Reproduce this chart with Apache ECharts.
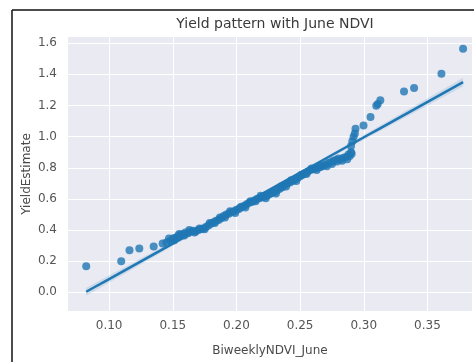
<!DOCTYPE html>
<html>
<head>
<meta charset="utf-8">
<script src="https://cdn.jsdelivr.net/npm/echarts@6/dist/echarts.min.js"></script>
<style>
  html, body { margin: 0; padding: 0; background: #ffffff; }
  #chart { width: 474px; height: 362px; }
</style>
</head>
<body>
<div id="chart"></div>
<script>
// June biweekly NDVI per field and the matching yield estimate
const ndvi = [
  0.082, 0.1095, 0.116, 0.1237, 0.135, 0.142,
  0.145, 0.148, 0.150, 0.152, 0.154, 0.156, 0.158, 0.160, 0.162, 0.164,
  0.166, 0.168, 0.170, 0.172, 0.174, 0.176, 0.178, 0.180, 0.182, 0.184,
  0.186, 0.188, 0.190, 0.192, 0.194, 0.196, 0.198, 0.200, 0.202, 0.204,
  0.206, 0.208, 0.210, 0.212, 0.214, 0.216, 0.218, 0.220, 0.222, 0.224,
  0.226, 0.228, 0.230, 0.232, 0.234, 0.236, 0.238, 0.240, 0.242, 0.244,
  0.246, 0.248, 0.250, 0.252, 0.254, 0.256, 0.258, 0.260, 0.262, 0.264,
  0.266, 0.268, 0.270, 0.272, 0.274, 0.276, 0.278, 0.280, 0.282, 0.284,
  0.286, 0.288, 0.290, 0.290, 0.291, 0.292, 0.293, 0.2935, 0.2998, 0.3053,
  0.3098, 0.311, 0.313, 0.3316, 0.3395, 0.361, 0.378,
  0.147, 0.151, 0.155, 0.159, 0.163, 0.167, 0.171, 0.175, 0.179, 0.183,
  0.187, 0.191, 0.195, 0.199, 0.203, 0.207, 0.211, 0.215, 0.219, 0.223,
  0.227, 0.231, 0.235, 0.239, 0.243, 0.247, 0.251, 0.255, 0.259, 0.263,
  0.267, 0.271, 0.275, 0.279, 0.283, 0.287, 0.289, 0.2905
];
const yieldEst = [
  0.167, 0.199, 0.270, 0.282, 0.295, 0.314,
  0.320, 0.330, 0.345, 0.350, 0.360, 0.370, 0.375, 0.385, 0.380, 0.390,
  0.395, 0.390, 0.400, 0.405, 0.410, 0.420, 0.430, 0.440, 0.450, 0.460,
  0.465, 0.475, 0.490, 0.500, 0.505, 0.515, 0.520, 0.530, 0.535, 0.550,
  0.555, 0.565, 0.575, 0.580, 0.590, 0.600, 0.605, 0.610, 0.615, 0.620,
  0.630, 0.640, 0.645, 0.655, 0.665, 0.675, 0.690, 0.700, 0.705, 0.715,
  0.725, 0.735, 0.745, 0.755, 0.765, 0.775, 0.785, 0.790, 0.795, 0.800,
  0.805, 0.815, 0.820, 0.830, 0.835, 0.845, 0.850, 0.860, 0.855, 0.865,
  0.870, 0.885, 0.900, 0.940, 0.970, 1.000, 1.020, 1.050, 1.072, 1.126,
  1.199, 1.210, 1.233, 1.290, 1.312, 1.404, 1.564,
  0.345, 0.335, 0.375, 0.365, 0.400, 0.385, 0.410, 0.405, 0.445, 0.445,
  0.480, 0.480, 0.520, 0.510, 0.545, 0.545, 0.585, 0.585, 0.620, 0.605,
  0.640, 0.635, 0.680, 0.680, 0.720, 0.715, 0.755, 0.760, 0.795, 0.785,
  0.810, 0.810, 0.825, 0.840, 0.845, 0.855, 0.875, 0.890
];

const xTicks = [0.10, 0.15, 0.20, 0.25, 0.30, 0.35];
const yTicks = [0.0, 0.2, 0.4, 0.6, 0.8, 1.0, 1.2, 1.4, 1.6];

// Ordinary least squares fit with a 95% confidence band for the mean
const n = ndvi.length;
const mx = ndvi.reduce((s, v) => s + v, 0) / n;
const my = yieldEst.reduce((s, v) => s + v, 0) / n;
let sxx = 0, sxy = 0;
for (let i = 0; i < n; i++) {
  sxx += (ndvi[i] - mx) * (ndvi[i] - mx);
  sxy += (ndvi[i] - mx) * (yieldEst[i] - my);
}
const slope = sxy / sxx;
const intercept = my - slope * mx;
let sse = 0;
for (let i = 0; i < n; i++) {
  const r = yieldEst[i] - (intercept + slope * ndvi[i]);
  sse += r * r;
}
const sRes = Math.sqrt(sse / (n - 2));
const xMin = Math.min(...ndvi), xMax = Math.max(...ndvi);
const steps = 40;
const fitLine = [], upper = [], lower = [];
for (let k = 0; k <= steps; k++) {
  const x = xMin + (xMax - xMin) * k / steps;
  const yhat = intercept + slope * x;
  const half = 1.98 * sRes * Math.sqrt(1 / n + (x - mx) * (x - mx) / sxx);
  fitLine.push([x, yhat]);
  upper.push([x, yhat + half]);
  lower.push([x, yhat - half]);
}

const blue = '#1f77b4';
const chart = echarts.init(document.getElementById('chart'));
chart.setOption({
  animation: false,
  backgroundColor: '#ffffff',
  title: {
    text: 'Yield pattern with June NDVI',
    left: 270, top: 12, textAlign: 'center',
    textStyle: { fontFamily: 'DejaVu Sans', fontSize: 14, fontWeight: 'normal', color: '#3a3a3a' }
  },
  grid: {
    left: 68, right: 2, top: 37, bottom: 50,
    show: true, backgroundColor: '#eaeaf2', borderWidth: 0
  },
  xAxis: {
    type: 'value', min: 0.0677, max: 0.385,
    name: 'BiweeklyNDVI_June', nameLocation: 'middle', nameGap: 34,
    nameMoveOverlap: false,
    nameTextStyle: { fontFamily: 'DejaVu Sans', fontSize: 12, color: '#4a4a4a' },
    axisLine: { show: false },
    axisTick: { show: false, customValues: xTicks },
    axisLabel: {
      customValues: xTicks, margin: 9,
      fontFamily: 'DejaVu Sans', fontSize: 12, color: '#555555',
      formatter: v => v.toFixed(2)
    },
    splitLine: { show: true, lineStyle: { color: '#ffffff', width: 1 } }
  },
  yAxis: {
    type: 'value', min: -0.12, max: 1.64,
    name: 'YieldEstimate', nameLocation: 'middle', nameGap: 35,
    nameMoveOverlap: false,
    nameTextStyle: { fontFamily: 'DejaVu Sans', fontSize: 12, color: '#4a4a4a' },
    axisLine: { show: false },
    axisTick: { show: false, customValues: yTicks },
    axisLabel: {
      customValues: yTicks, margin: 11,
      fontFamily: 'DejaVu Sans', fontSize: 12, color: '#555555',
      formatter: v => v.toFixed(1)
    },
    splitLine: { show: true, lineStyle: { color: '#ffffff', width: 1 } }
  },
  graphic: [
    { type: 'line', shape: { x1: 12, y1: 10, x2: 474, y2: 10 }, style: { stroke: '#111111', lineWidth: 1.5 } },
    { type: 'line', shape: { x1: 12, y1: 10, x2: 12, y2: 362 }, style: { stroke: '#111111', lineWidth: 1.5 } }
  ],
  series: [
    {
      type: 'scatter', name: 'fields', z: 2,
      symbolSize: 8,
      itemStyle: { color: blue, opacity: 0.8 },
      data: ndvi.map((x, i) => [x, yieldEst[i]])
    },
    {
      type: 'custom', name: 'ci', z: 3, silent: true,
      data: [0],
      renderItem: (params, api) => {
        const pts = upper.map(p => api.coord(p)).concat(lower.slice().reverse().map(p => api.coord(p)));
        return { type: 'polygon', shape: { points: pts }, style: { fill: blue, opacity: 0.15 } };
      }
    },
    {
      type: 'line', name: 'fit', z: 4,
      showSymbol: false, symbol: 'none',
      lineStyle: { color: blue, width: 2.5 },
      data: fitLine
    }
  ]
});
</script>
</body>
</html>
